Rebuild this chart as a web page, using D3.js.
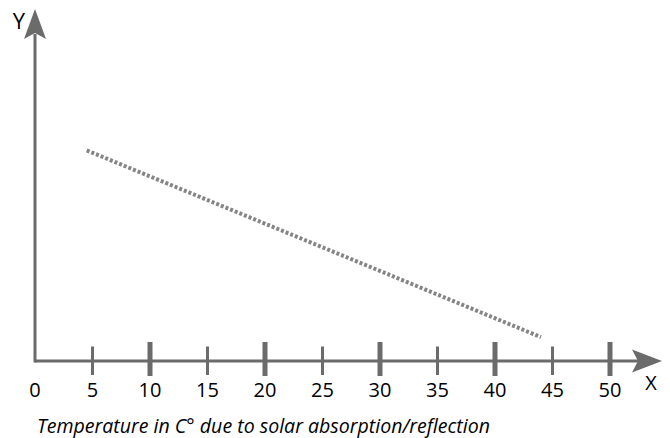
<!DOCTYPE html>
<html><head><meta charset="utf-8">
<script src="https://cdn.jsdelivr.net/npm/d3@7"></script>
<style>html,body{margin:0;padding:0;background:#fff}</style>
</head><body>
<svg id="c" width="670" height="438"></svg>
<script>
const xTicks = [0,5,10,15,20,25,30,35,40,45,50];
const majorTicks = [10,20,30,40,50];
const lineX = [4.5, 44];
const lineY = [6.0, 0.68];
const xLabel = "X";
const yLabel = "Y";
const title = "Temperature in C° due to solar absorption/reflection";

const svg = d3.select("#c");
const axisColor = "#6b6b6b";
const font = "'Open Sans', 'Noto Sans', sans-serif";
const x = d3.scaleLinear().domain([0,50]).range([35,610]);
const y = d3.scaleLinear().domain([0,10]).range([361,10]);

// dotted line
const pts = lineX.map((v,i)=>[v,lineY[i]]);
svg.append("path")
  .attr("d", d3.line().x(d=>x(d[0])).y(d=>y(d[1]))(pts))
  .attr("fill","none").attr("stroke","#858585").attr("stroke-width",4)
  .attr("stroke-dasharray","3,2");

// axes lines
svg.append("line").attr("x1",x(0)).attr("x2",640).attr("y1",y(0)).attr("y2",y(0))
  .attr("stroke",axisColor).attr("stroke-width",3);
svg.append("line").attr("x1",x(0)).attr("x2",x(0)).attr("y1",y(0)+1.5).attr("y2",34)
  .attr("stroke",axisColor).attr("stroke-width",3);

// arrowheads
const x0 = x(0), y0 = y(0);
svg.append("path").attr("d",`M${x0},9 L${x0+11},39 L${x0},33 L${x0-11},39 Z`).attr("fill",axisColor);
svg.append("path").attr("d",`M662,${y0} L632,${y0-11.5} L638,${y0} L632,${y0+11.5} Z`).attr("fill",axisColor);

// ticks
const tickData = xTicks.filter(t=>t>0);
svg.selectAll("line.tick").data(tickData).enter().append("line")
  .attr("class","tick")
  .attr("x1",d=>x(d)).attr("x2",d=>x(d))
  .attr("y1",d=>majorTicks.includes(d)?342:346.5)
  .attr("y2",d=>majorTicks.includes(d)?376:375)
  .attr("stroke",axisColor)
  .attr("stroke-width",d=>majorTicks.includes(d)?5:3);

// tick labels
svg.selectAll("text.tl").data(xTicks).enter().append("text")
  .attr("class","tl")
  .attr("x",d=>x(d)).attr("y",397)
  .attr("text-anchor","middle")
  .attr("font-family",font).attr("font-weight",500)
  .attr("font-size",20).attr("fill","#000")
  .text(d=>d);

svg.append("text").attr("x",651).attr("y",390).attr("text-anchor","middle")
  .attr("font-family",font).attr("font-weight",500).attr("font-size",20).attr("fill","#000")
  .text(xLabel);
svg.append("text").attr("x",19).attr("y",29).attr("text-anchor","middle")
  .attr("font-family",font).attr("font-weight",500).attr("font-size",22).attr("fill","#000")
  .text(yLabel);

svg.append("text").attr("x",37).attr("y",433)
  .attr("font-family",font).attr("font-size",20).attr("font-weight",500)
  .attr("font-style","italic").attr("fill","#000")
  .attr("textLength",453).attr("lengthAdjust","spacingAndGlyphs")
  .text(title);
</script>
</body></html>
